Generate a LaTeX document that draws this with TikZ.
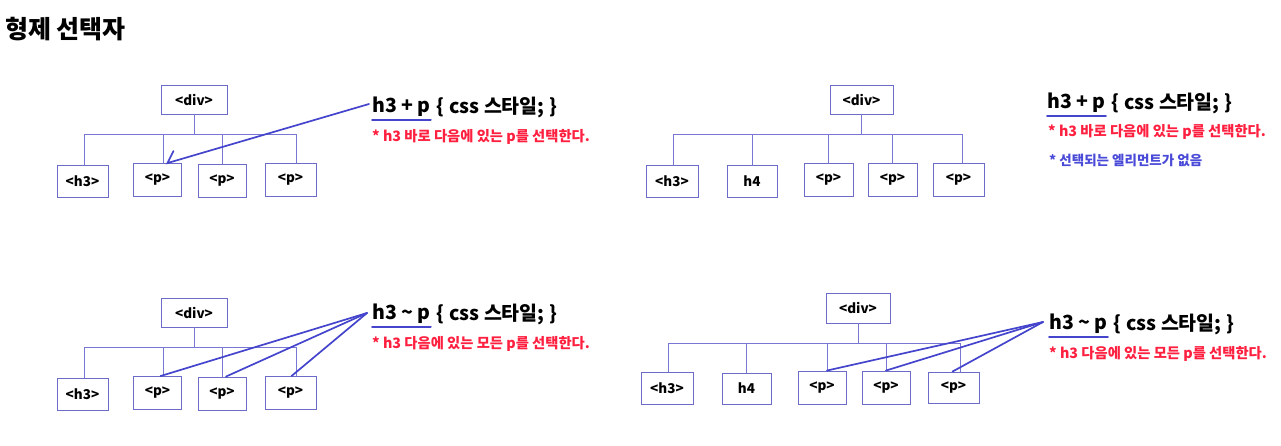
\documentclass[tikz,border=0pt]{standalone}
\usepackage{fontspec}
\setmainfont{Noto Sans CJK KR}
\usetikzlibrary{positioning}
\definecolor{boxline}{HTML}{6C6CC8}
\definecolor{treeline}{HTML}{7878D4}
\definecolor{pointer}{HTML}{4444CC}
\definecolor{note}{HTML}{FF2040}
\definecolor{nonote}{HTML}{4A4AD8}

\begin{document}
\begin{tikzpicture}
          [x=1pt,y=-1pt,font=\bfseries]
          \tikzstyle{tag}=[draw=boxline,line width=0.9pt,minimum width=48pt,minimum height=33pt,inner sep=0pt,font=\bfseries\fontsize{13.5}{15}\selectfont]
          \tikzstyle{tree}=[draw=treeline,line width=0.8pt]
          \tikzstyle{pick}=[draw=pointer,line width=1.7pt,line cap=round]
          \tikzstyle{rule}=[anchor=west,inner sep=0pt,font=\bfseries\fontsize{19.5}{23}\selectfont]
          \tikzstyle{memo}=[anchor=west,inner sep=0pt,text=note,font=\bfseries\fontsize{14.3}{17}\selectfont]

          \useasboundingbox (0,0) rectangle (1281,446);
          \node[anchor=west,inner sep=0pt,font=\bfseries\fontsize{25}{30}\selectfont] (title) at (5,29) {형제 선택자};

          % h3 + p
          \node[tag,minimum width=66pt,minimum height=29pt] (diva) at (194,99.5) {<div>};
          \node[tag,minimum width=51pt,minimum height=32pt] (h3a) at (82.5,181) {<h3>};
          \node[tag] (pa1) at (157.5,180) {<p>};
          \node[tag] (pa2) at (222,180.5) {<p>};
          \node[tag,minimum width=51pt] (pa3) at (290.5,180) {<p>};
          \coordinate (bara) at (84,134);
          \coordinate (barb) at (296,134);
          \draw[tree] (bara) -- (barb);
          \draw[tree] (diva.south) -- (diva.south |- bara);
          \draw[tree] (h3a.north -| bara) -- (bara);
          \draw[tree] ([xshift=5.5pt]pa1.north) -- ([xshift=5.5pt]pa1.north |- bara);
          \draw[tree] (pa2.north) -- (pa2.north |- bara);
          \draw[tree] (pa3.north -| barb) -- (barb);
          \node[rule] (sela) at (372,107) {h3 + p};
          \node[rule,right=6pt of sela] (cssa) {\{ css 스타일; \}};
          \draw[pick,line width=2pt] ([yshift=-3pt]sela.south west) -- ([yshift=-3pt]sela.south east);
          \node[memo] (memoa) at (372,137) {* h3 바로 다음에 있는 p를 선택한다.};
          \draw[pick] ([xshift=-3pt,yshift=3pt]sela.west) -- ([xshift=10pt]pa1.north) -- ++(6,-12);

          % h3 + p, no match
          \node[tag,minimum width=63pt,minimum height=29pt] (divb) at (861.5,99.5) {<div>};
          \node[tag,minimum width=52pt,minimum height=32pt] (h3b) at (672,181) {<h3>};
          \node[tag,minimum width=50pt,minimum height=32pt] (h4b) at (752,181) {h4};
          \node[tag,minimum width=49pt] (pb1) at (828.5,179.5) {<p>};
          \node[tag,minimum width=49pt] (pb2) at (892.5,179.5) {<p>};
          \node[tag,minimum width=51pt] (pb3) at (958.5,179.5) {<p>};
          \coordinate (barc) at (673,134);
          \coordinate (bard) at (962,134);
          \draw[tree] (barc) -- (bard);
          \draw[tree] (divb.south) -- (divb.south |- barc);
          \draw[tree] (h3b.north -| barc) -- (barc);
          \draw[tree] (h4b.north) -- (h4b.north |- barc);
          \draw[tree] (pb1.north) -- (pb1.north |- barc);
          \draw[tree] (pb2.north) -- (pb2.north |- barc);
          \draw[tree] (pb3.north -| bard) -- (bard);
          \node[rule] (selb) at (1047,103) {h3 + p};
          \node[rule,right=6pt of selb] (cssb) {\{ css 스타일; \}};
          \draw[pick,line width=2pt] ([yshift=-3pt]selb.south west) -- ([yshift=-3pt]selb.south east);
          \node[memo] (memob) at (1048,132) {* h3 바로 다음에 있는 p를 선택한다.};
          \node[memo,text=nonote,font=\bfseries\fontsize{13.5}{16}\selectfont] (noneb) at (1049,160) {* 선택되는 엘리먼트가 없음};

          % h3 ~ p
          \node[tag,minimum width=66pt,minimum height=29pt] (divc) at (194,312.5) {<div>};
          \node[tag,minimum width=51pt,minimum height=32pt] (h3c) at (82.5,394) {<h3>};
          \node[tag] (pc1) at (157.5,393) {<p>};
          \node[tag] (pc2) at (222,393.5) {<p>};
          \node[tag,minimum width=51pt] (pc3) at (290.5,393) {<p>};
          \coordinate (bare) at (84,347);
          \coordinate (barf) at (296,347);
          \draw[tree] (bare) -- (barf);
          \draw[tree] (divc.south) -- (divc.south |- bare);
          \draw[tree] (h3c.north -| bare) -- (bare);
          \draw[tree] ([xshift=5.5pt]pc1.north) -- ([xshift=5.5pt]pc1.north |- bare);
          \draw[tree] (pc2.north) -- (pc2.north |- bare);
          \draw[tree] (pc3.north -| barf) -- (barf);
          \node[rule] (selc) at (372,314) {h3 \textasciitilde\ p};
          \node[rule,right=6pt of selc] (cssc) {\{ css 스타일; \}};
          \draw[pick,line width=2pt] ([yshift=-3pt]selc.south west) -- ([yshift=-3pt]selc.south east);
          \node[memo] (memoc) at (372,344) {* h3 다음에 있는 모든 p를 선택한다.};
          \draw[pick] ([xshift=-5pt,yshift=1pt]selc.west) -- ([xshift=3pt]pc1.north);
          \draw[pick] ([xshift=-5pt,yshift=1pt]selc.west) -- ([xshift=4pt]pc2.north);
          \draw[pick] ([xshift=-5pt,yshift=1pt]selc.west) -- ([xshift=1pt]pc3.north);

          % h3 ~ p, with h4
          \node[tag,minimum width=64pt,minimum height=30pt] (divd) at (858,308) {<div>};
          \node[tag,minimum width=52pt,minimum height=32pt] (h3d) at (667,388) {<h3>};
          \node[tag,minimum width=49pt,minimum height=31pt] (h4d) at (746.5,388.5) {h4};
          \node[tag,minimum width=48pt] (pd1) at (822,387.5) {<p>};
          \node[tag,minimum width=48pt] (pd2) at (886,387.5) {<p>};
          \node[tag,minimum width=51pt,minimum height=31pt] (pd3) at (953.5,387.5) {<p>};
          \coordinate (barg) at (668,343);
          \coordinate (barh) at (960,343);
          \draw[tree] (barg) -- (barh);
          \draw[tree] (divd.south) -- (divd.south |- barg);
          \draw[tree] (h3d.north -| barg) -- (barg);
          \draw[tree] (h4d.north) -- (h4d.north |- barg);
          \draw[tree] ([xshift=5pt]pd1.north) -- ([xshift=5pt]pd1.north |- barg);
          \draw[tree] (pd2.north) -- (pd2.north |- barg);
          \draw[tree] (pd3.north -| barh) -- (barh);
          \node[rule] (seld) at (1049,324) {h3 \textasciitilde\ p};
          \node[rule,right=6pt of seld] (cssd) {\{ css 스타일; \}};
          \draw[pick,line width=2pt] ([yshift=-3pt]seld.south west) -- ([yshift=-3pt]seld.south east);
          \node[memo] (memod) at (1049,354) {* h3 다음에 있는 모든 p를 선택한다.};
          \draw[pick] ([xshift=-6pt,yshift=2pt]seld.west) -- ([xshift=5pt]pd1.north);
          \draw[pick] ([xshift=-6pt,yshift=2pt]seld.west) -- (pd2.north);
          \draw[pick] ([xshift=-6pt,yshift=2pt]seld.west) -- ([xshift=-1pt]pd3.north);
        \end{tikzpicture}
\end{document}
